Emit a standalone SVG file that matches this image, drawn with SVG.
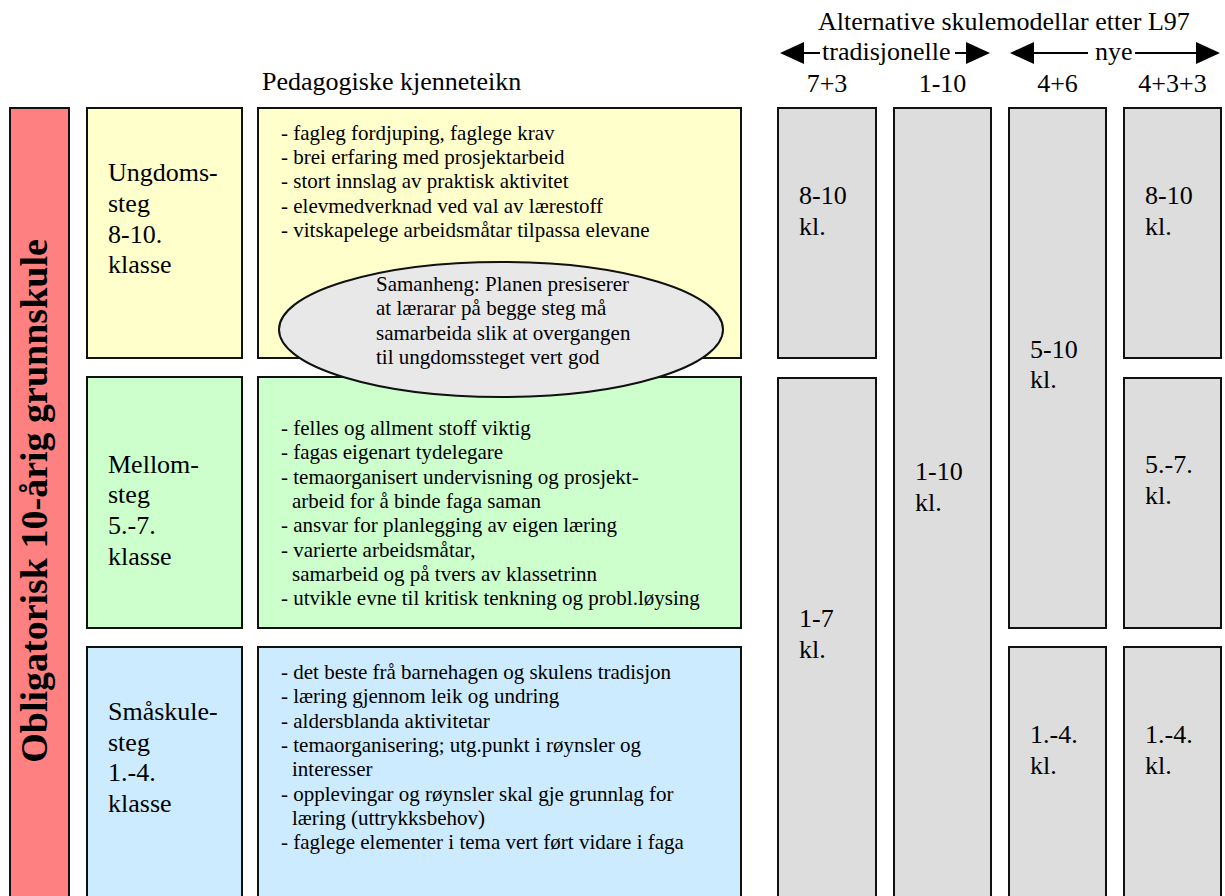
<svg xmlns="http://www.w3.org/2000/svg" width="1225" height="896" viewBox="0 0 1225 896">
<defs>
<style>
text{font-family:"Liberation Serif","Times New Roman",serif;fill:#000}
.box{stroke:#111;stroke-width:2}
.red{fill:#FF8080}
.yel{fill:#FFFFCC}
.grn{fill:#CCFFCC}
.blu{fill:#CCEBFF}
.gry{fill:#DDDDDD}
.lbl{font-size:26px}
.bul{font-size:21px}
.hdr{font-size:26px}
.arr{stroke:#000;stroke-width:2;fill:none;marker-end:url(#ah)}
</style>
<marker id="ah" markerUnits="userSpaceOnUse" viewBox="0 0 24 22" refX="2" refY="11" markerWidth="24" markerHeight="22" orient="auto">
<path d="M0,0 L24,11 L0,22 z" fill="#000"/>
</marker>
</defs>
<rect width="1225" height="896" fill="#fff"/>

<g id="header">
<text class="hdr" x="818" y="30">Alternative skulemodellar etter L97</text>
<text class="hdr" x="822" y="60">tradisjonelle</text>
<text class="hdr" x="1095" y="60">nye</text>
<text class="hdr" x="827" y="92" text-anchor="middle">7+3</text>
<text class="hdr" x="942.5" y="92" text-anchor="middle">1-10</text>
<text class="hdr" x="1057.5" y="92" text-anchor="middle">4+6</text>
<text class="hdr" x="1172.5" y="92" text-anchor="middle">4+3+3</text>
<text class="hdr" x="262" y="90">Pedagogiske kjenneteikn</text>
</g>

<g id="connectors">
<line class="arr" x1="820" y1="53" x2="802" y2="53"/>
<line class="arr" x1="955" y1="53" x2="968" y2="53"/>
<line class="arr" x1="1088" y1="53" x2="1032" y2="53"/>
<line class="arr" x1="1135" y1="53" x2="1198" y2="53"/>
</g>

<g id="obligatorisk">
<rect class="box red" x="10" y="108" width="59" height="800"/>
<text x="47" y="501" transform="rotate(-90 47 501)" text-anchor="middle" font-weight="bold" font-size="38">Obligatorisk 10-årig grunnskule</text>
</g>

<g id="ungdomssteg">
<rect class="box yel" x="87" y="108" width="155" height="250"/>
<text class="lbl"><tspan x="108" y="181">Ungdoms-</tspan><tspan x="108" y="212">steg</tspan><tspan x="108" y="242.5">8-10.</tspan><tspan x="108" y="273">klasse</tspan></text>
</g>
<g id="mellomsteg">
<rect class="box grn" x="87" y="377" width="155" height="251"/>
<text class="lbl"><tspan x="108" y="473">Mellom-</tspan><tspan x="108" y="503">steg</tspan><tspan x="108" y="534">5.-7.</tspan><tspan x="108" y="565">klasse</tspan></text>
</g>
<g id="smaaskulesteg">
<rect class="box blu" x="87" y="647" width="155" height="260"/>
<text class="lbl"><tspan x="108" y="720">Småskule-</tspan><tspan x="108" y="750.5">steg</tspan><tspan x="108" y="781">1.-4.</tspan><tspan x="108" y="811.5">klasse</tspan></text>
</g>

<g id="kjenneteikn-ungdom">
<rect class="box yel" x="258" y="108" width="483" height="250"/>
<text class="bul"><tspan x="281" y="139.5">- fagleg fordjuping, faglege krav</tspan><tspan x="281" y="163.9">- brei erfaring med prosjektarbeid</tspan><tspan x="281" y="188.3">- stort innslag av praktisk aktivitet</tspan><tspan x="281" y="212.7">- elevmedverknad ved val av lærestoff</tspan><tspan x="281" y="237.1">- vitskapelege arbeidsmåtar tilpassa elevane</tspan></text>
</g>
<g id="kjenneteikn-mellom">
<rect class="box grn" x="258" y="377" width="483" height="251"/>
<text class="bul"><tspan x="281" y="435">- felles og allment stoff viktig</tspan><tspan x="281" y="459.3">- fagas eigenart tydelegare</tspan><tspan x="281" y="483.6">- temaorganisert undervisning og prosjekt-</tspan><tspan x="292" y="507.9">arbeid for å binde faga saman</tspan><tspan x="281" y="532.2">- ansvar for planlegging av eigen læring</tspan><tspan x="281" y="556.5">- varierte arbeidsmåtar,</tspan><tspan x="292" y="580.8">samarbeid og på tvers av klassetrinn</tspan><tspan x="281" y="605.1">- utvikle evne til kritisk tenkning og probl.løysing</tspan></text>
</g>
<g id="kjenneteikn-smaa">
<rect class="box blu" x="258" y="647" width="483" height="260"/>
<text class="bul"><tspan x="281" y="679">- det beste frå barnehagen og skulens tradisjon</tspan><tspan x="281" y="703.3">- læring gjennom leik og undring</tspan><tspan x="281" y="727.6">- aldersblanda aktivitetar</tspan><tspan x="281" y="751.9">- temaorganisering; utg.punkt i røynsler og</tspan><tspan x="292" y="776.2">interesser</tspan><tspan x="281" y="800.5">- opplevingar og røynsler skal gje grunnlag for</tspan><tspan x="292" y="824.8">læring (uttrykksbehov)</tspan><tspan x="281" y="849.1">- faglege elementer i tema vert ført vidare i faga</tspan></text>
</g>

<g id="samanheng">
<ellipse cx="501" cy="329.5" rx="222" ry="67.5" fill="#E8E8E8" stroke="#111" stroke-width="2"/>
<text class="bul"><tspan x="376" y="291">Samanheng: Planen presiserer</tspan><tspan x="376" y="315.3">at lærarar på begge steg må</tspan><tspan x="376" y="339.6">samarbeida slik at overgangen</tspan><tspan x="376" y="363.9">til ungdomssteget vert god</tspan></text>
</g>

<g id="m73-8-10">
<rect class="box gry" x="778" y="108" width="98" height="250"/>
<text class="lbl"><tspan x="799" y="204">8-10</tspan><tspan x="799" y="235">kl.</tspan></text>
</g>
<g id="m73-1-7">
<rect class="box gry" x="778" y="378" width="98" height="530"/>
<text class="lbl"><tspan x="799" y="627">1-7</tspan><tspan x="799" y="658">kl.</tspan></text>
</g>
<g id="m110-1-10">
<rect class="box gry" x="894" y="108" width="97" height="800"/>
<text class="lbl"><tspan x="915" y="480">1-10</tspan><tspan x="915" y="511">kl.</tspan></text>
</g>
<g id="m46-5-10">
<rect class="box gry" x="1009" y="108" width="97" height="520"/>
<text class="lbl"><tspan x="1030" y="358">5-10</tspan><tspan x="1030" y="388">kl.</tspan></text>
</g>
<g id="m46-1-4">
<rect class="box gry" x="1009" y="647" width="97" height="260"/>
<text class="lbl"><tspan x="1030" y="743">1.-4.</tspan><tspan x="1030" y="774">kl.</tspan></text>
</g>
<g id="m433-8-10">
<rect class="box gry" x="1124" y="108" width="97" height="250"/>
<text class="lbl"><tspan x="1145" y="204">8-10</tspan><tspan x="1145" y="235">kl.</tspan></text>
</g>
<g id="m433-5-7">
<rect class="box gry" x="1124" y="378" width="97" height="250"/>
<text class="lbl"><tspan x="1145" y="473">5.-7.</tspan><tspan x="1145" y="504">kl.</tspan></text>
</g>
<g id="m433-1-4">
<rect class="box gry" x="1124" y="647" width="97" height="260"/>
<text class="lbl"><tspan x="1145" y="743">1.-4.</tspan><tspan x="1145" y="774">kl.</tspan></text>
</g>
</svg>
